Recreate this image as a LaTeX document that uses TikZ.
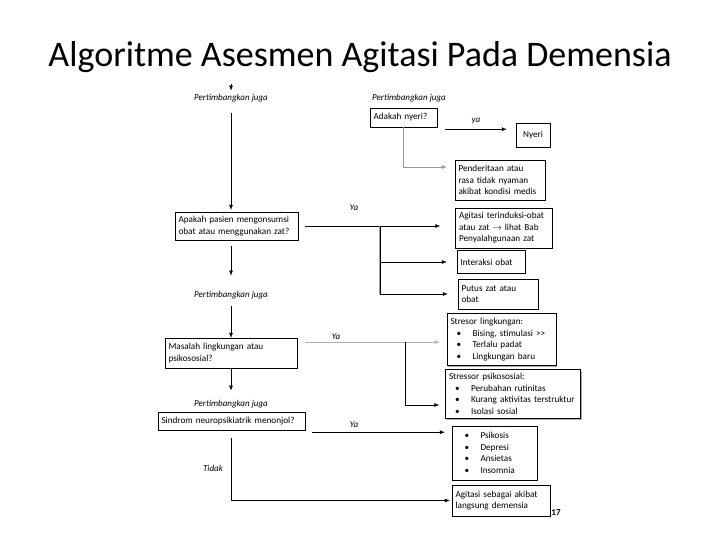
\documentclass[tikz,border=0pt]{standalone}
\usepackage{fontspec}
\setmainfont{Carlito}
\usetikzlibrary{arrows.meta,positioning,calc,shadows}

\newcommand\itembul[2][6pt]{\hspace*{#1}\makebox[16pt][l]{\textbullet}#2}

\tikzset{
  box/.style={draw, thin, fill=white, align=left, inner sep=3.5pt, font=\fontsize{9.2}{11.5}\selectfont},
  shbox/.style={box, drop shadow={shadow xshift=1.3pt, shadow yshift=-1.3pt, fill=gray!65, opacity=1}},
  note/.style={font=\fontsize{9}{10}\selectfont\itshape},
  arr/.style={thin, -{Latex[length=1.7mm, width=1.3mm]}},
}

\begin{document}
\begin{tikzpicture}[x=1pt, y=-1pt]
  \useasboundingbox (0,0) rectangle (720,540);
  \node[font=\fontsize{36}{40}\selectfont] (title) at (360,57) {Algoritme Asesmen Agitasi Pada Demensia};

  \node[note] (pj1) at (231,98) {Pertimbangkan juga};
  \node[shbox, text width=116, minimum height=28] (q1) at (236.5,226) {Apakah pasien mengonsumsi\\obat atau menggunakan zat?};
  \node[note] (pj2) at (231,295) {Pertimbangkan juga};
  \node[shbox, text width=125, minimum height=30] (q2) at (231,353) {Masalah lingkungan atau\\psikososial?};
  \node[note] (pj3) at (231,404) {Pertimbangkan juga};
  \node[box, text width=140, minimum height=18] (q3) at (231.5,421) {Sindrom neuropsikiatrik menonjol?};
  \node[note] (tidak) at (213,468) {Tidak};

  \node[note] (pj4) at (409,98) {Pertimbangkan juga};
  \node[box, text width=60, minimum height=19] (nyeriq) at (403.5,117.5) {Adakah nyeri?};
  \node[box, align=center, text width=27, minimum height=24] (nyeri) at (533,135) {Nyeri};
  \node[shbox, text width=83, minimum height=40] (medis) at (500,180) {Penderitaan atau\\rasa tidak nyaman\\akibat kondisi medis};
  \node[box, text width=90, minimum height=40] (obat) at (504,228) {Agitasi terinduksi-obat\\atau zat $\rightarrow$ lihat Bab\\Penyalahgunaan zat};
  \node[box, text width=61, minimum height=23] (interaksi) at (491,262) {Interaksi obat};
  \node[box, text width=73, minimum height=30] (putus) at (498,294) {Putus zat atau\\obat};
  \node[shbox, text width=102, minimum height=52] (lingk) at (501.5,339.5) {Stresor lingkungan:\\\itembul{Bising, stimulasi {>}{>}}\\\itembul{Terlalu padat}\\\itembul{Lingkungan baru}};
  \node[shbox, text width=128, minimum height=49] (psiko) at (513,394) {Stressor psikososial:\\\itembul{Perubahan rutinitas}\\\itembul{Kurang aktivitas terstruktur}\\\itembul{Isolasi sosial}};
  \node[box, text width=78, minimum height=54] (gejala) at (494.5,453) {\itembul[9pt]{Psikosis}\\\itembul[9pt]{Depresi}\\\itembul[9pt]{Ansietas}\\\itembul[9pt]{Insomnia}};
  \node[box, text width=91, minimum height=31] (demensia) at (501,500.5) {Agitasi sebagai akibat\\langsung demensia};
  \node[font=\fontsize{9}{10}\selectfont\bfseries] (hal) at (556,513) {17};

  \node[note] (ya1) at (476,121) {ya};
  \node[note] (ya2) at (354,208) {Ya};
  \node[note] (ya3) at (336,337) {Ya};
  \node[note] (ya4) at (354,425) {Ya};

  \coordinate (top) at (231,84);
  \coordinate (b1) at (380,226);
  \coordinate (b2) at (405,342);

  \draw[arr] (top) -- (pj1.north);
  \draw[arr, shorten <=8pt, shorten >=2pt] (pj1.south) -- (pj1.south |- q1.north);
  \draw[arr, shorten <=6pt, shorten >=12pt] (pj2.north |- q1.south) -- (pj2.north);
  \draw[arr, shorten <=4pt] (pj2.south) -- (pj2.south |- q2.north);
  \draw[arr, shorten >=6pt] (q2.south) -- (pj3.north);
  \draw[arr, shorten <=8pt, shorten >=2pt] (q3.south) |- (demensia.west);

  \draw[arr, shorten >=9pt] ([xshift=8,yshift=-2]nyeriq.south east) -- ([yshift=-2]nyeriq.south east -| nyeri.west);
  \draw[arr, draw=gray!80, shorten >=8pt] (nyeriq.south) |- ([yshift=13]medis.west);
  \draw[arr, shorten <=7pt, shorten >=15pt] (q1.east) -- (q1.east -| obat.west);
  \draw[gray!75, line width=1.3pt] (b1) -- (b1 |- putus.west);
  \draw[arr, shorten >=10pt] (b1) |- (interaksi.west);
  \draw[arr, shorten >=10pt] (b1) |- (putus.west);
  \draw[arr, draw=gray!60, shorten <=8pt, shorten >=7pt] ([yshift=11]q2.east) -- ([yshift=11]q2.east -| lingk.west);
  \draw[arr, shorten >=6pt] (b2) |- ([yshift=-11]psiko.west);
  \draw[arr, shorten >=7pt] ([xshift=7,yshift=-2]q3.south east) -- ([yshift=-2]q3.south east -| gejala.west);
\end{tikzpicture}
\end{document}
